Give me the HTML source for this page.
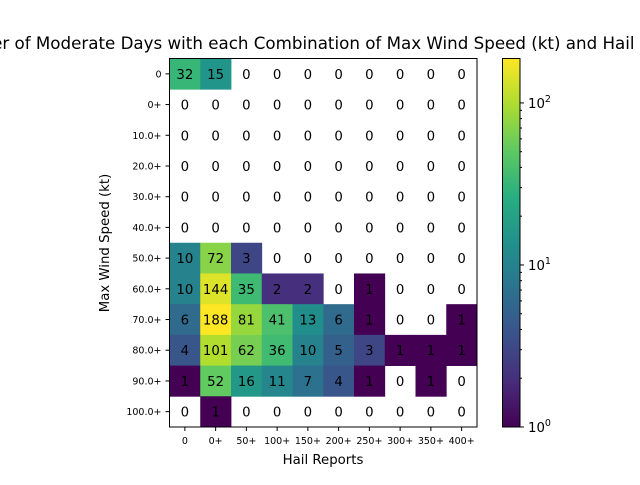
<!DOCTYPE html>
<html><head><meta charset="utf-8"><style>
body{margin:0;background:#fff;}
svg text{font-family:"DejaVu Sans","Liberation Sans",sans-serif;}
</style></head><body>
<svg id="c" width="640" height="480" viewBox="0 0 640 480">
<defs><linearGradient id="vg" x1="0" y1="1" x2="0" y2="0">
<stop offset="0" stop-color="#440154"/><stop offset="0.125" stop-color="#472d7b"/><stop offset="0.25" stop-color="#3b528b"/><stop offset="0.375" stop-color="#2c728e"/><stop offset="0.5" stop-color="#21918c"/><stop offset="0.625" stop-color="#28ae80"/><stop offset="0.75" stop-color="#5ec962"/><stop offset="0.875" stop-color="#addc30"/><stop offset="1" stop-color="#fde725"/></linearGradient></defs>
<text x="323" y="49" font-size="16.7" text-anchor="middle">Number of Moderate Days with each Combination of Max Wind Speed (kt) and Hail Reports</text>
<g id="cells"></g>
<rect x="169.5" y="58.5" width="307.5" height="368.5" fill="none" stroke="#000" stroke-width="1"/>
<g id="ax"></g>
<text x="323" y="464" font-size="13.3" text-anchor="middle">Hail Reports</text>
<text transform="translate(109,243) rotate(-90)" font-size="13.3" text-anchor="middle">Max Wind Speed (kt)</text>
<rect x="502.5" y="58.5" width="17.5" height="368.5" fill="url(#vg)" stroke="#000" stroke-width="1"/>
<g id="cb"></g>
</svg>
<script>
const xLabels=["0","0+","50+","100+","150+","200+","250+","300+","350+","400+"];
const yLabels=["0","0+","10.0+","20.0+","30.0+","40.0+","50.0+","60.0+","70.0+","80.0+","90.0+","100.0+"];
const row0=[32,15,0,0,0,0,0,0,0,0];
const row1=[0,0,0,0,0,0,0,0,0,0];
const row2=[0,0,0,0,0,0,0,0,0,0];
const row3=[0,0,0,0,0,0,0,0,0,0];
const row4=[0,0,0,0,0,0,0,0,0,0];
const row5=[0,0,0,0,0,0,0,0,0,0];
const row6=[10,72,3,0,0,0,0,0,0,0];
const row7=[10,144,35,2,2,0,1,0,0,0];
const row8=[6,188,81,41,13,6,1,0,0,1];
const row9=[4,101,62,36,10,5,3,1,1,1];
const row10=[1,52,16,11,7,4,1,0,1,0];
const row11=[0,1,0,0,0,0,0,0,0,0];
const rows=[row0,row1,row2,row3,row4,row5,row6,row7,row8,row9,row10,row11];
const vmin=1, vmax=188;
const L=169.5,T=58.5,W=307.5,H=368.5;
const cw=W/xLabels.length, ch=H/yLabels.length;
const xs=i=>L+i*cw, ys=j=>T+j*ch;
const vir=[[68,1,84],[71,45,123],[59,82,139],[44,114,142],[33,145,140],[40,174,128],[94,201,98],[173,220,48],[253,231,37]];
function col(v){let t=Math.log(v/vmin)/Math.log(vmax/vmin);t=Math.max(0,Math.min(1,t))*8;const i=Math.min(7,Math.floor(t)),f=t-i;const a=vir[i],b=vir[i+1];return `rgb(${a.map((c,k)=>Math.round(c+(b[k]-c)*f)).join(',')})`;}
const NS="http://www.w3.org/2000/svg";
function mk(tag,at,par,txt){const e=document.createElementNS(NS,tag);for(const k in at)e.setAttribute(k,at[k]);if(txt!==undefined)e.textContent=txt;par.appendChild(e);return e;}
const cells=document.getElementById('cells'),ax=document.getElementById('ax'),cb=document.getElementById('cb');
rows.forEach((r,j)=>r.forEach((v,i)=>{
 if(v>0){const rc=mk('rect',{x:xs(i),y:ys(j),width:cw+0.4,height:ch+0.4,fill:col(v)},cells);
 
 }
 const t=mk('text',{x:xs(i)+cw/2,y:ys(j)+ch/2+5,'font-size':13.3,'text-anchor':'middle'},cells,String(v));
 
 
}));
xLabels.forEach((s,i)=>{const x=xs(i)+cw/2;
 mk('line',{x1:x,x2:x,y1:T+H,y2:T+H+4,stroke:'#000'},ax);
 const t=mk('text',{x:x,y:T+H+17,'font-size':9.5,'text-anchor':'middle'},ax,s);
 
 });
yLabels.forEach((s,j)=>{const y=ys(j)+ch/2;
 mk('line',{x1:L-4,x2:L,y1:y,y2:y,stroke:'#000'},ax);
 const t=mk('text',{x:L-8,y:y+3.5,'font-size':9.5,'text-anchor':'end'},ax,s);
 
 });
const cbY=v=>T+H-Math.log(v/vmin)/Math.log(vmax/vmin)*H;
for(let d=1;d<=100;d*=10)for(let m=1;m<10;m++){const v=d*m;if(v>vmax)break;const y=cbY(v);
 mk('line',{x1:520,x2:m==1?524:522,y1:y,y2:y,stroke:'#000'},cb);
 if(m==1){const t=mk('text',{x:528,y:y+5,'font-size':13.3},cb,'10');mk('tspan',{dy:-6,'font-size':9.5},t,String(Math.log10(d)));
 
 }}
</script>
</body></html>
